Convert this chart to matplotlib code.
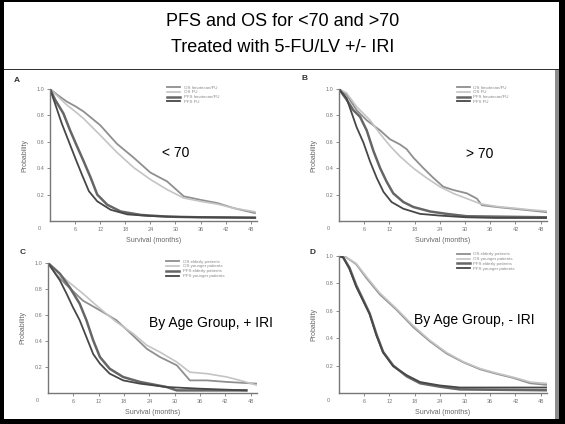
import matplotlib
matplotlib.use("Agg")
import matplotlib.pyplot as plt
from matplotlib.patches import Rectangle

plt.rcParams['font.family'] = ['Liberation Sans', 'DejaVu Sans']

W, H = 565, 424

# ---- data (months, probability) ----
# Panel A: < 70
a_os_iri_t = [0, 2, 4, 6, 8, 12, 16, 20, 24, 28, 32, 36, 40, 44, 49]
a_os_iri_p = [1.0, 0.95, 0.905, 0.87, 0.83, 0.726, 0.585, 0.48, 0.367, 0.30, 0.187, 0.16, 0.136, 0.097, 0.06]
a_os_fu_t = [0, 2, 4, 6, 8, 12, 16, 20, 24, 28, 32, 36, 40, 44, 49]
a_os_fu_p = [1.0, 0.94, 0.88, 0.83, 0.777, 0.65, 0.52, 0.405, 0.315, 0.238, 0.174, 0.149, 0.128, 0.097, 0.07]
a_pfs_iri_t = [0, 1.2, 3.2, 4.8, 6.4, 8, 9.7, 11.3, 13.7, 16.9, 21.7, 28, 36, 49]
a_pfs_iri_p = [1.0, 0.92, 0.815, 0.687, 0.57, 0.456, 0.33, 0.2, 0.123, 0.072, 0.046, 0.033, 0.028, 0.025]
a_pfs_fu_t = [0, 1.2, 2.8, 4.4, 6, 7.6, 9.3, 11.3, 14.5, 18.5, 24, 32, 49]
a_pfs_fu_p = [1.0, 0.89, 0.74, 0.61, 0.48, 0.354, 0.226, 0.149, 0.085, 0.05, 0.038, 0.03, 0.025]

# Panel B: > 70
b_os_iri_t = [0, 1.8, 4.2, 6.6, 9.8, 12.1, 14.5, 16.1, 17.7, 20.1, 22.5, 24.8, 27.2, 30.4, 32.8, 34, 37.5, 41.5, 45.5, 49.4]
b_os_iri_p = [1.0, 0.956, 0.84, 0.763, 0.686, 0.62, 0.58, 0.544, 0.48, 0.40, 0.325, 0.26, 0.235, 0.21, 0.17, 0.12, 0.106, 0.093, 0.08, 0.067]
b_os_fu_t = [0, 1.8, 4.2, 7.4, 9.8, 12.1, 14.5, 17.7, 20.9, 24, 27.2, 30.4, 33.6, 37.5, 41.5, 45.5, 49.4]
b_os_fu_p = [1.0, 0.97, 0.866, 0.763, 0.66, 0.57, 0.49, 0.40, 0.325, 0.26, 0.209, 0.17, 0.131, 0.11, 0.098, 0.085, 0.075]
b_pfs_iri_t = [0, 1.8, 3.4, 5, 6.6, 8.2, 9.8, 11.3, 12.9, 15.3, 17.7, 21.7, 25.6, 30.4, 49.4]
b_pfs_iri_p = [1.0, 0.92, 0.84, 0.79, 0.686, 0.53, 0.40, 0.30, 0.21, 0.144, 0.106, 0.072, 0.054, 0.036, 0.028]
b_pfs_fu_t = [0, 1.8, 3, 4.2, 5.8, 7.4, 9, 10.6, 12.5, 15.3, 19.3, 24, 30.4, 37.5, 49.4]
b_pfs_fu_p = [1.0, 0.93, 0.82, 0.71, 0.595, 0.45, 0.325, 0.22, 0.144, 0.093, 0.054, 0.041, 0.028, 0.023, 0.023]

# Panel C: by age group, + IRI
c_os_old_t = [0, 2, 4.4, 8.3, 12.3, 16.2, 20.2, 23.4, 26.5, 30.5, 33.6, 37.6, 42.4, 49.5]
c_os_old_p = [1.0, 0.91, 0.83, 0.71, 0.636, 0.56, 0.44, 0.34, 0.277, 0.213, 0.097, 0.097, 0.085, 0.072]
c_os_young_t = [0, 2, 4.4, 8.3, 12.3, 16.2, 20.2, 23.4, 26.5, 30.5, 33.6, 37.6, 42.4, 45.5, 49.5]
c_os_young_p = [1.0, 0.94, 0.867, 0.764, 0.65, 0.546, 0.456, 0.367, 0.315, 0.238, 0.16, 0.149, 0.123, 0.097, 0.06]
c_pfs_old_t = [0, 2.8, 5.1, 7.5, 9.1, 10.7, 12.3, 14.6, 17.8, 21.8, 28.1, 30.5, 47]
c_pfs_old_p = [1.0, 0.918, 0.815, 0.687, 0.56, 0.405, 0.277, 0.187, 0.123, 0.085, 0.046, 0.02, 0.02]
c_pfs_young_t = [0, 2.8, 4.4, 5.9, 7.5, 9.1, 10.7, 12.3, 14.6, 17.8, 21.8, 28.1, 36, 47]
c_pfs_young_p = [1.0, 0.867, 0.764, 0.66, 0.56, 0.43, 0.30, 0.226, 0.149, 0.097, 0.072, 0.046, 0.033, 0.02]

# Panel D: by age group, - IRI
d_os_old_t = [0, 1.75, 4.1, 6.5, 9.7, 13.7, 17.7, 21.6, 25.6, 29.6, 33.6, 37.5, 41.5, 45.5, 49.5]
d_os_old_p = [1.0, 0.99, 0.94, 0.84, 0.72, 0.607, 0.48, 0.378, 0.288, 0.224, 0.173, 0.14, 0.11, 0.071, 0.059]
d_os_young_t = [0, 1.75, 4.1, 6.5, 9.7, 13.7, 17.7, 21.6, 25.6, 29.6, 33.6, 37.5, 41.5, 45.5, 49.5]
d_os_young_p = [1.0, 0.99, 0.945, 0.85, 0.73, 0.615, 0.49, 0.385, 0.295, 0.228, 0.178, 0.145, 0.115, 0.08, 0.07]
d_pfs_old_t = [0, 1.0, 2.5, 4.1, 5.7, 7.3, 8.9, 10.5, 12.9, 16.1, 19.3, 24, 28.8, 49.5]
d_pfs_old_p = [1.0, 0.99, 0.913, 0.786, 0.684, 0.58, 0.43, 0.30, 0.2, 0.122, 0.071, 0.046, 0.026, 0.02]
d_pfs_young_t = [0, 1.0, 2.5, 4.1, 5.7, 7.3, 8.9, 10.5, 12.9, 16.1, 19.3, 24, 28.8, 49.5]
d_pfs_young_p = [1.0, 0.99, 0.905, 0.775, 0.675, 0.575, 0.42, 0.295, 0.195, 0.13, 0.08, 0.055, 0.04, 0.04]

legend_ab = ["OS Irinotecan/FU", "OS FU", "PFS Irinotecan/FU", "PFS FU"]
legend_cd = ["OS elderly patients", "OS younger patients", "PFS elderly patients", "PFS younger patients"]
x_ticks = [6, 12, 18, 24, 30, 36, 42, 48]
y_ticks = [0.2, 0.4, 0.6, 0.8, 1.0]

styles = [dict(color="#8f8f8f", lw=1.3),
          dict(color="#c4c4c4", lw=1.2),
          dict(color="#666666", lw=1.8),
          dict(color="#474747", lw=1.3)]


def fx(px):
    return px / W


def fy(py):
    return 1 - py / H


fig = plt.figure(figsize=(W / 100, H / 100), dpi=100)

# slide frame
fig.patches.append(Rectangle((fx(0), fy(424)), fx(4), 1, transform=fig.transFigure,
                             color="black", lw=0))
fig.patches.append(Rectangle((fx(559), fy(424)), fx(6), 1, transform=fig.transFigure,
                             color="black", lw=0))
fig.patches.append(Rectangle((fx(0), fy(2)), 1, 2 / H, transform=fig.transFigure,
                             color="black", lw=0))
fig.patches.append(Rectangle((fx(4), fy(70)), fx(555), 1.2 / H, transform=fig.transFigure,
                             color="#333333", lw=0))
fig.patches.append(Rectangle((fx(555), fy(420)), fx(4), 350 / H, transform=fig.transFigure,
                             color="#8c8c8c", lw=0))
fig.patches.append(Rectangle((fx(0), fy(424)), 1, 5 / H, transform=fig.transFigure,
                             color="black", lw=0))

fig.text(0.5, fy(22), "PFS and OS for <70 and >70", ha="center", va="center", fontsize=13)
fig.text(0.5, fy(47), "Treated with 5-FU/LV +/- IRI", ha="center", va="center", fontsize=13)

panels = [
    ("A", (50, 257, 89, 221), (17, 80), "< 70", (176, 153), legend_ab,
     [(a_os_iri_t, a_os_iri_p), (a_os_fu_t, a_os_fu_p), (a_pfs_iri_t, a_pfs_iri_p), (a_pfs_fu_t, a_pfs_fu_p)]),
    ("B", (339, 547, 89, 221), (304, 79), "> 70", (480, 154), legend_ab,
     [(b_os_iri_t, b_os_iri_p), (b_os_fu_t, b_os_fu_p), (b_pfs_iri_t, b_pfs_iri_p), (b_pfs_fu_t, b_pfs_fu_p)]),
    ("C", (48, 257, 263, 393), (23, 252), "By Age Group, + IRI", (211, 323), legend_cd,
     [(c_os_old_t, c_os_old_p), (c_os_young_t, c_os_young_p), (c_pfs_old_t, c_pfs_old_p), (c_pfs_young_t, c_pfs_young_p)]),
    ("D", (339, 547, 256, 393), (312, 252), "By Age Group, - IRI", (474, 320), legend_cd,
     [(d_os_old_t, d_os_old_p), (d_os_young_t, d_os_young_p), (d_pfs_old_t, d_pfs_old_p), (d_pfs_young_t, d_pfs_young_p)]),
]

grey = "#777777"
for letter, (x0, x1, y0, y1), lpos, note, npos, labels, series in panels:
    ax = fig.add_axes([fx(x0), fy(y1), (x1 - x0) / W, (y1 - y0) / H])
    for (t, p), st, lab in zip(series, styles, labels):
        ax.plot(t, p, label=lab, **st)
    ax.set_xlim(0, 49.5)
    ax.set_ylim(0, 1.0)
    for s in ["top", "right"]:
        ax.spines[s].set_visible(False)
    for s in ["left", "bottom"]:
        ax.spines[s].set_color(grey)
        ax.spines[s].set_linewidth(1.0)
    ax.set_xticks(x_ticks)
    ax.set_yticks(y_ticks)
    ax.set_yticklabels([f"{v:.1f}" for v in y_ticks])
    ax.tick_params(colors=grey, labelsize=4, length=2, width=0.6, pad=2)
    ax.set_facecolor("none")
    ax.text(-0.05, -0.04, "0", transform=ax.transAxes, fontsize=4, color=grey,
            ha="center", va="top")
    ax.set_xlabel("Survival (months)", fontsize=5, color="#666666", labelpad=4)
    ax.set_ylabel("Probability", fontsize=5, color="#666666", labelpad=6)
    leg = ax.legend(loc="upper left", bbox_to_anchor=(0.55, 1.05), fontsize=3.2,
                    frameon=False, handlelength=3, labelspacing=0.15,
                    handletextpad=0.8, borderpad=0.2)
    for txt in leg.get_texts():
        txt.set_color("#888888")
    fig.text(fx(lpos[0]), fy(lpos[1]), letter, fontsize=6, fontweight="bold",
             color="#333333", ha="center", va="center")
    fig.text(fx(npos[0]), fy(npos[1]), note, fontsize=10, ha="center", va="center")

fig.savefig("out.png", dpi=100)
